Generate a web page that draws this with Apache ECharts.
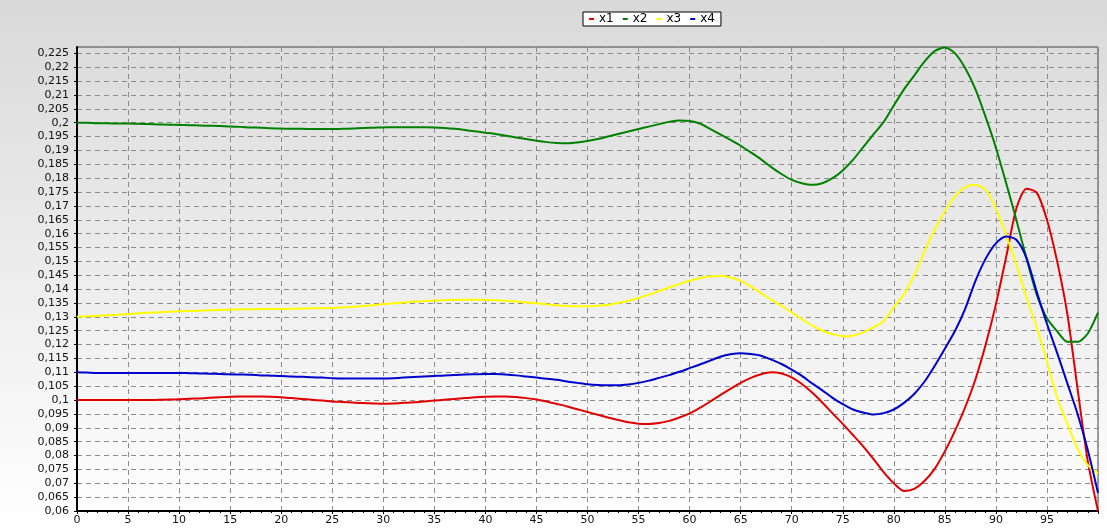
<!DOCTYPE html>
<html>
<head>
<meta charset="utf-8">
<script src="https://cdn.jsdelivr.net/npm/echarts@6/dist/echarts.min.js"></script>
<style>
  html, body { margin: 0; padding: 0; background: #ffffff; }
  #chart { width: 1107px; height: 529px; }
</style>
</head>
<body>
<div id="chart"></div>
<script>
// Sampled values of the four state variables, one per step 0..100
const x1 = [
  0.1000, 0.1000, 0.1000, 0.1000, 0.1000, 0.1000, 0.1000, 0.1000, 0.1001, 0.1002,
  0.1003, 0.1005, 0.1006, 0.1008, 0.1010, 0.1012, 0.1013, 0.1013, 0.1013, 0.1012,
  0.1010, 0.1007, 0.1004, 0.1001, 0.0998, 0.0995, 0.0993, 0.0991, 0.0989, 0.0988,
  0.0987, 0.0988, 0.0990, 0.0992, 0.0995, 0.0998, 0.1001, 0.1004, 0.1007, 0.1010,
  0.1012, 0.1013, 0.1013, 0.1011, 0.1007, 0.1002, 0.0995, 0.0986, 0.0977, 0.0967,
  0.0957, 0.0947, 0.0937, 0.0928, 0.0920, 0.0915, 0.0914, 0.0917, 0.0925, 0.0937,
  0.0952, 0.0972, 0.0994, 0.1018, 0.1040, 0.1062, 0.1080, 0.1093, 0.1100, 0.1096,
  0.1082, 0.1058, 0.1027, 0.0991, 0.0952, 0.0914, 0.0874, 0.0833, 0.0788, 0.0740,
  0.0700, 0.0672, 0.0680, 0.0708, 0.0752, 0.0815, 0.0890, 0.0975, 0.1075, 0.1200,
  0.1345, 0.1515, 0.1690, 0.1762, 0.1748, 0.1650, 0.1500, 0.1310, 0.1040, 0.0780,
  0.0600
];
const x2 = [
  0.2000, 0.2000, 0.1998, 0.1998, 0.1997, 0.1997, 0.1996, 0.1995, 0.1994, 0.1993,
  0.1992, 0.1991, 0.1990, 0.1989, 0.1988, 0.1986, 0.1985, 0.1983, 0.1982, 0.1980,
  0.1979, 0.1978, 0.1978, 0.1977, 0.1977, 0.1977, 0.1978, 0.1979, 0.1981, 0.1982,
  0.1983, 0.1984, 0.1984, 0.1984, 0.1984, 0.1983, 0.1981, 0.1978, 0.1974, 0.1969,
  0.1964, 0.1959, 0.1953, 0.1947, 0.1941, 0.1935, 0.1930, 0.1927, 0.1926, 0.1929,
  0.1934, 0.1941, 0.1950, 0.1959, 0.1968, 0.1977, 0.1986, 0.1995, 0.2003, 0.2008,
  0.2006, 0.1997, 0.1978, 0.1958, 0.1938, 0.1917, 0.1893, 0.1868, 0.1840, 0.1815,
  0.1794, 0.1782, 0.1776, 0.1782, 0.1800, 0.1828, 0.1866, 0.1912, 0.1958, 0.2002,
  0.2062, 0.2120, 0.2170, 0.2220, 0.2258, 0.2271, 0.2250, 0.2196, 0.2120, 0.2020,
  0.1910, 0.1783, 0.1650, 0.1510, 0.1380, 0.1295, 0.1248, 0.1210, 0.1210, 0.1240,
  0.1315
];
const x3 = [
  0.1300, 0.1302, 0.1304, 0.1306, 0.1308, 0.1310, 0.1313, 0.1315, 0.1317, 0.1318,
  0.1320, 0.1321, 0.1322, 0.1324, 0.1325, 0.1326, 0.1327, 0.1327, 0.1328, 0.1328,
  0.1328, 0.1329, 0.1330, 0.1331, 0.1331, 0.1332, 0.1334, 0.1336, 0.1339, 0.1342,
  0.1346, 0.1349, 0.1352, 0.1355, 0.1357, 0.1359, 0.1360, 0.1361, 0.1362, 0.1362,
  0.1361, 0.1360, 0.1358, 0.1355, 0.1352, 0.1349, 0.1345, 0.1342, 0.1339, 0.1338,
  0.1338, 0.1340, 0.1344, 0.1350, 0.1358, 0.1368, 0.1380, 0.1393, 0.1406, 0.1418,
  0.1430, 0.1439, 0.1446, 0.1447, 0.1442, 0.1430, 0.1410, 0.1385, 0.1362, 0.1340,
  0.1316, 0.1292, 0.1268, 0.1250, 0.1238, 0.1230, 0.1232, 0.1244, 0.1262, 0.1285,
  0.1335, 0.1382, 0.1450, 0.1535, 0.1615, 0.1680, 0.1735, 0.1768, 0.1776, 0.1758,
  0.1690, 0.1595, 0.1490, 0.1370, 0.1262, 0.1140, 0.1010, 0.0915, 0.0825, 0.0765,
  0.0735
];
const x4 = [
  0.1100, 0.1099, 0.1098, 0.1098, 0.1098, 0.1098, 0.1098, 0.1098, 0.1098, 0.1098,
  0.1098, 0.1097, 0.1096, 0.1095, 0.1094, 0.1093, 0.1092, 0.1091, 0.1089, 0.1088,
  0.1087, 0.1085, 0.1084, 0.1082, 0.1081, 0.1079, 0.1078, 0.1078, 0.1078, 0.1078,
  0.1078, 0.1079, 0.1081, 0.1083, 0.1085, 0.1087, 0.1089, 0.1090, 0.1092, 0.1093,
  0.1094, 0.1094, 0.1092, 0.1089, 0.1085, 0.1081, 0.1077, 0.1073, 0.1067, 0.1062,
  0.1057, 0.1054, 0.1053, 0.1053, 0.1056, 0.1062, 0.1070, 0.1080, 0.1090, 0.1102,
  0.1115, 0.1128, 0.1142, 0.1156, 0.1165, 0.1169, 0.1166, 0.1160, 0.1146, 0.1130,
  0.1110, 0.1087, 0.1060, 0.1035, 0.1008, 0.0985, 0.0966, 0.0955, 0.0948, 0.0953,
  0.0966, 0.0990, 0.1022, 0.1066, 0.1123, 0.1185, 0.1250, 0.1330, 0.1430, 0.1510,
  0.1565, 0.1590, 0.1578, 0.1512, 0.1390, 0.1275, 0.1170, 0.1060, 0.0950, 0.0820,
  0.0665
];

const seriesNames = ['x1', 'x2', 'x3', 'x4'];
const seriesValues = [x1, x2, x3, x4];
const seriesColors = ['#e00000', '#008000', '#ffff00', '#0000cc'];

// Axis ranges
const xMin = 0, xMax = 100, xStep = 5;
const yMin = 0.06, yMax = 0.2273, yStep = 0.005;

// Decimal comma labels: 0,225 / 0,2 / 0,06
const fmt = v => String(Math.round(v * 1000) / 1000).replace('.', ',');

const chart = echarts.init(document.getElementById('chart'), null, { renderer: 'canvas' });

const option = {
  animation: false,
  backgroundColor: {
    type: 'linear', x: 0, y: 0, x2: 0, y2: 1,
    colorStops: [
      { offset: 0, color: '#d9d9d9' },
      { offset: 1, color: '#ffffff' }
    ]
  },
  textStyle: { fontFamily: 'DejaVu Sans' },
  legend: {
    left: 583,
    top: 12,
    padding: [1, 6],
    itemGap: 9,
    itemWidth: 5,
    itemHeight: 2,
    icon: 'rect',
    backgroundColor: '#ffffff',
    borderColor: '#000000',
    borderWidth: 1,
    borderRadius: 0,
    textStyle: { fontSize: 12, color: '#000000' },
    data: seriesNames
  },
  grid: {
    left: 77,
    right: 9,
    top: 47,
    bottom: 18,
    show: true,
    borderColor: '#444444',
    borderWidth: 1,
    backgroundColor: 'transparent'
  },
  xAxis: {
    type: 'value',
    min: xMin,
    max: xMax,
    interval: xStep,
    axisLine: { show: true, onZero: false, lineStyle: { color: '#000000', width: 2 } },
    axisTick: { show: true, length: 3, lineStyle: { color: '#000000' } },
    minorTick: { show: true, splitNumber: 5, length: 2, lineStyle: { color: '#000000' } },
    splitLine: { show: true, lineStyle: { type: [5, 4], color: '#8c8c8c', width: 1 } },
    axisLabel: {
      showMaxLabel: false,
      color: '#111111',
      fontSize: 11,
      margin: 4
    }
  },
  yAxis: {
    type: 'value',
    min: yMin,
    max: yMax,
    interval: yStep,
    axisLine: { show: true, onZero: false, lineStyle: { color: '#000000', width: 2 } },
    axisTick: { show: true, length: 3, lineStyle: { color: '#000000' } },
    splitLine: { show: true, lineStyle: { type: [5, 4], color: '#8c8c8c', width: 1 } },
    axisLabel: {
      showMaxLabel: false,
      color: '#111111',
      fontSize: 11,
      margin: 8,
      formatter: fmt
    }
  },
  series: seriesNames.map((name, k) => ({
    name: name,
    type: 'line',
    showSymbol: false,
    smooth: 0.25,
    color: seriesColors[k],
    lineStyle: { color: seriesColors[k], width: 2 },
    data: seriesValues[k].map((v, i) => [i, v])
  }))
};

chart.setOption(option);
</script>
</body>
</html>
